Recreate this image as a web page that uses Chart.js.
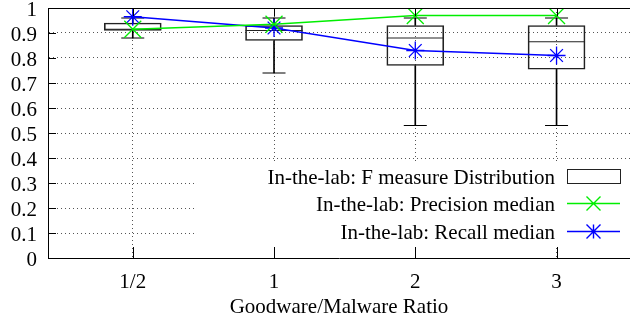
<!DOCTYPE html>
<html>
<head>
<meta charset="utf-8">
<script src="https://cdn.jsdelivr.net/npm/chart.js@4.4.0/dist/chart.umd.min.js"></script>
<style>
  html, body { margin: 0; padding: 0; background: #fff; }
</style>
</head>
<body>
<canvas id="c" width="630" height="320"></canvas>
<script>
// values
const ratioLabels = ['1/2', '1', '2', '3'];
const ratioPos = [0, 1, 2, 3];
const whiskerLow = [0.88, 0.74, 0.53, 0.53];
const boxLow = [0.91, 0.87, 0.77, 0.755];
const fMedian = [0.915, 0.91, 0.88, 0.865];
const boxHigh = [0.94, 0.93, 0.93, 0.93];
const whiskerHigh = [0.96, 0.96, 0.96, 0.96];
const precisionMedian = [0.915, 0.935, 0.97, 0.97];
const recallMedian = [0.965, 0.92, 0.83, 0.81];
const keyLabels = ['In-the-lab: F measure Distribution', 'In-the-lab: Precision median', 'In-the-lab: Recall median'];

const serif = { family: '"Liberation Serif", "Times New Roman", serif', size: 21 };
const green = '#00ee00';
const blue = '#0000ff';

const pts = (ys) => ratioPos.map((x, i) => ({ x: x, y: ys[i] }));
const ranges = (lo, hi) => ratioPos.map((x, i) => ({ x: x, y: [lo[i], hi[i]] }));

// gnuplot-ish frame, inward ticks and the key
const frame = {
  id: 'frame',
  beforeDatasetsDraw(chart) {
    const { ctx, chartArea: a } = chart;
    ctx.save();
    ctx.fillStyle = '#fff';
    ctx.fillRect(a.left + 149, a.bottom - 95, a.right - a.left - 149, 85);
    ctx.restore();
  },
  afterDatasetsDraw(chart) {
    const { ctx, chartArea: a, scales } = chart;
    ctx.save();
    ctx.strokeStyle = '#000';
    ctx.lineWidth = 1;
    ctx.beginPath();
    ctx.moveTo(a.left, a.top + 0.5);
    ctx.lineTo(a.right, a.top + 0.5);
    scales.y.ticks.forEach(t => {
      const y = Math.round(scales.y.getPixelForValue(t.value)) + 0.5;
      ctx.moveTo(a.left, y);
      ctx.lineTo(a.left + 8, y);
    });
    scales.x.ticks.forEach(t => {
      const x = Math.round(scales.x.getPixelForValue(t.value)) + 0.5;
      ctx.moveTo(x, a.bottom);
      ctx.lineTo(x, a.bottom - 11);
      ctx.moveTo(x, a.top);
      ctx.lineTo(x, a.top + 8);
    });
    ctx.stroke();

    // key
    const textX = 555, x0 = 567, x1 = 620, xm = (x0 + x1) / 2;
    const rows = [176.5, 203.5, 231.5];
    ctx.font = serif.size + 'px ' + serif.family;
    ctx.fillStyle = '#000';
    ctx.textAlign = 'right';
    ctx.textBaseline = 'middle';
    keyLabels.forEach((t, i) => ctx.fillText(t, textX, rows[i] + 2));

    ctx.strokeStyle = '#222';
    ctx.strokeRect(x0 + 0.5, rows[0] - 7, x1 - x0, 14);

    const r = 7;
    ctx.lineWidth = 1.4;
    ctx.strokeStyle = green;
    ctx.beginPath();
    ctx.moveTo(x0, rows[1]); ctx.lineTo(x1, rows[1]);
    ctx.moveTo(xm - r, rows[1] - r); ctx.lineTo(xm + r, rows[1] + r);
    ctx.moveTo(xm - r, rows[1] + r); ctx.lineTo(xm + r, rows[1] - r);
    ctx.stroke();

    ctx.strokeStyle = blue;
    ctx.beginPath();
    ctx.moveTo(x0, rows[2]); ctx.lineTo(x1, rows[2]);
    ctx.moveTo(xm - r, rows[2] - r); ctx.lineTo(xm + r, rows[2] + r);
    ctx.moveTo(xm - r, rows[2] + r); ctx.lineTo(xm + r, rows[2] - r);
    ctx.moveTo(xm, rows[2] - r); ctx.lineTo(xm, rows[2] + r);
    ctx.stroke();
    ctx.restore();
  }
};

new Chart(document.getElementById('c'), {
  type: 'bar',
  data: {
    datasets: [
      {
        type: 'line', label: 'Precision', data: pts(precisionMedian),
        borderColor: green, backgroundColor: green, borderWidth: 1.5,
        pointStyle: 'crossRot', pointRadius: 12, pointBorderWidth: 1.3, order: 0
      },
      {
        type: 'line', label: 'Recall', data: pts(recallMedian),
        borderColor: blue, backgroundColor: blue, borderWidth: 1.3,
        pointStyle: 'star', pointRadius: 9, pointBorderWidth: 1.3, order: 0
      },
      {
        label: 'box', data: ranges(boxLow, boxHigh), grouped: false,
        backgroundColor: 'rgba(0,0,0,0)', borderColor: '#222', borderWidth: 1,
        borderSkipped: false, barThickness: 57, order: 2
      },
      {
        label: 'whiskerLo', data: ranges(whiskerLow, boxLow), grouped: false,
        backgroundColor: '#000', borderWidth: 0, barThickness: 1, order: 2
      },
      {
        label: 'whiskerHi', data: ranges(boxHigh, whiskerHigh), grouped: false,
        backgroundColor: '#000', borderWidth: 0, barThickness: 1, order: 2
      },
      {
        type: 'line', label: 'caps', data: pts(whiskerLow).concat(pts(whiskerHigh)),
        showLine: false, pointStyle: 'line', pointRadius: 11.5, borderColor: '#000',
        pointBorderWidth: 1, order: 1
      },
      {
        type: 'line', label: 'median', data: pts(fMedian),
        showLine: false, pointStyle: 'line', pointRadius: 28.5, borderColor: '#222',
        pointBorderWidth: 1, order: 1
      }
    ]
  },
  options: {
    responsive: false,
    animation: false,
    layout: { autoPadding: false, padding: 0 },
    scales: {
      x: {
        type: 'linear', min: -0.6, max: 3.52, offset: false,
        afterBuildTicks: s => { s.ticks = ratioPos.map(v => ({ value: v })); },
        afterFit: s => { s.height = 62; s.paddingLeft = 0; s.paddingRight = 0; },
        ticks: {
          callback: v => ratioLabels[ratioPos.indexOf(v)],
          font: serif, color: '#000', padding: 12, maxRotation: 0, autoSkip: false
        },
        grid: { color: '#555', drawTicks: false, offset: false },
        border: { color: '#000', width: 1, dash: [1, 3] },
        title: { display: true, text: 'Goodware/Malware Ratio', font: serif, color: '#000', padding: { top: 0, bottom: 0 } }
      },
      y: {
        min: 0, max: 1,
        afterFit: s => { s.width = 48; s.paddingTop = 8; s.paddingBottom = 0; },
        ticks: {
          stepSize: 0.1, autoSkip: false, labelOffset: 2,
          callback: v => String(Math.round(v * 10) / 10),
          font: serif, color: '#000', padding: 11
        },
        grid: { color: '#555', drawTicks: false },
        border: { color: '#000', width: 1, dash: [1, 3] }
      }
    },
    plugins: {
      legend: { display: false },
      tooltip: { enabled: false }
    }
  },
  plugins: [frame]
});
</script>
</body>
</html>
